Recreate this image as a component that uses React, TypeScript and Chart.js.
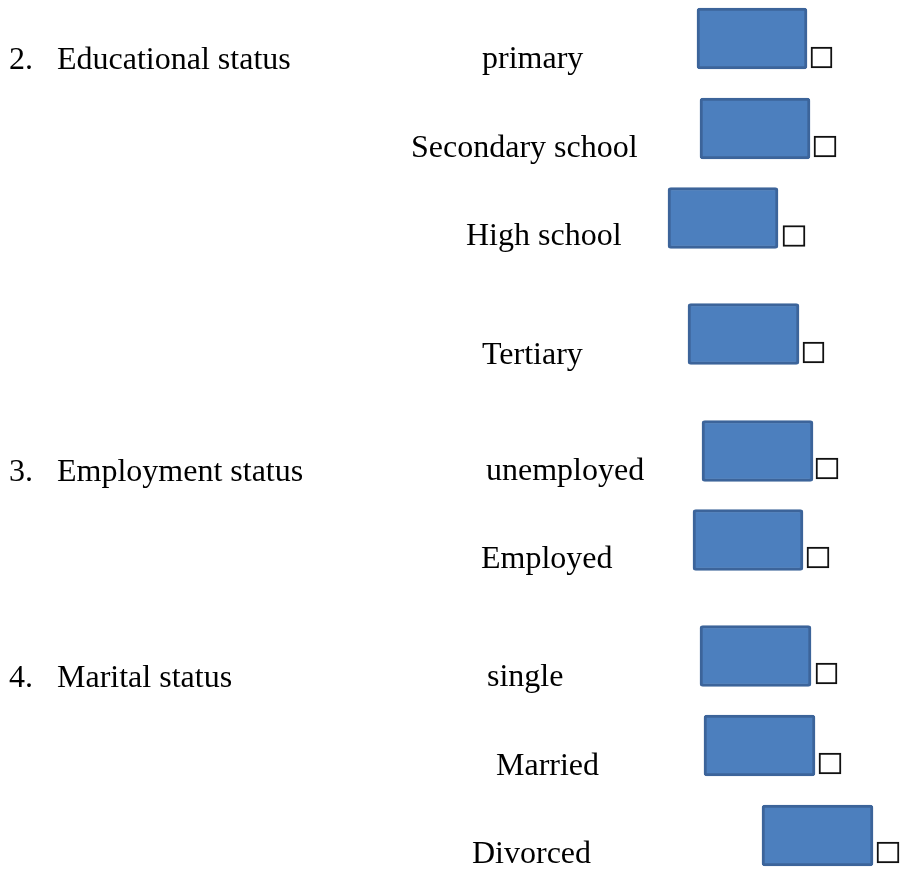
import React, { useEffect, useRef } from "react";
import { Chart, registerables } from "chart.js";

Chart.register(...registerables);

// Questions (left column)
const questionNumbers = ["2.", "3.", "4."];
const questionTitles = ["Educational status", "Employment status", "Marital status"];
const questionRow = [0, 4, 6];

// Answer options (middle column)
const optionLabels = [
  "primary",
  "Secondary school",
  "High school",
  "Tertiary",
  "unemployed",
  "Employed",
  "single",
  "Married",
  "Divorced",
];
const optionLabelX = [482, 411, 466, 482, 486, 481, 487, 496, 472];
const rowBaseline = [68, 157, 245, 364, 480, 568, 686, 775, 863];

// Blue answer fields (floating bars)
const fieldStart = [697, 700, 668, 688, 702, 693, 700, 704, 762];
const fieldEnd = [807, 810, 778, 799, 813, 803, 811, 815, 873];
const fieldCenter = [38.5, 128.5, 218, 334, 451, 540, 656, 745.5, 835.5];

// Tick boxes
const boxStart = [811, 814, 783, 803, 816, 807, 816, 819, 877];
const boxEnd = [832, 836, 805, 824, 838, 829, 837, 841, 899];
const boxCenter = [57.5, 146.5, 236, 352.5, 468.5, 557.5, 673.5, 763.5, 852.5];

const FONT = '32px "Liberation Serif", "Times New Roman", serif';

const textPlugin = {
  id: "formText",
  afterDatasetsDraw(chart: any) {
    const { ctx, scales } = chart;
    const x = scales.x;
    const y = scales.y;
    ctx.save();
    ctx.font = FONT;
    ctx.fillStyle = "#000000";
    ctx.textAlign = "left";
    ctx.textBaseline = "alphabetic";
    optionLabels.forEach((label, i) => {
      ctx.fillText(label, x.getPixelForValue(optionLabelX[i]), y.getPixelForValue(rowBaseline[i]));
    });
    questionTitles.forEach((title, i) => {
      const by = y.getPixelForValue(rowBaseline[questionRow[i]] + 1);
      ctx.fillText(questionNumbers[i], x.getPixelForValue(9), by);
      ctx.fillText(title, x.getPixelForValue(57), by);
    });
    ctx.restore();
  },
};

export default function App() {
  const canvasRef = useRef<HTMLCanvasElement | null>(null);

  useEffect(() => {
    if (!canvasRef.current) return;
    const chart = new Chart(canvasRef.current, {
      type: "bar",
      data: {
        datasets: [
          {
            label: "fields",
            data: fieldCenter.map((c, i) => ({ x: [fieldStart[i], fieldEnd[i]], y: c })) as any,
            yAxisID: "y",
            backgroundColor: "rgb(76,127,190)",
            borderColor: "rgb(60,100,154)",
            borderWidth: 3,
            borderRadius: 3,
            borderSkipped: false,
            barThickness: 61,
            grouped: false,
          },
          {
            label: "boxes",
            data: boxCenter.map((c, i) => ({ x: [boxStart[i], boxEnd[i]], y: c })) as any,
            yAxisID: "y2",
            backgroundColor: "#ffffff",
            borderColor: "#111111",
            borderWidth: 2,
            borderRadius: 0,
            borderSkipped: false,
            barThickness: 21,
            grouped: false,
          },
        ],
      },
      options: {
        indexAxis: "y",
        animation: false,
        responsive: true,
        maintainAspectRatio: false,
        layout: { padding: 0 },
        plugins: {
          legend: { display: false },
          tooltip: { enabled: false },
          title: { display: false },
        },
        scales: {
          x: { type: "linear", min: 0, max: 900, offset: false, display: false },
          y: { type: "linear", min: 0, max: 873, reverse: true, offset: false, display: false },
          y2: { type: "linear", min: 0, max: 873, reverse: true, offset: false, display: false },
        },
      },
      plugins: [textPlugin],
    });
    return () => chart.destroy();
  }, []);

  return (
    <div
      style={{
        position: "absolute",
        left: 0,
        top: 0,
        width: 900,
        height: 873,
        background: "#ffffff",
      }}
    >
      <canvas ref={canvasRef} />
    </div>
  );
}
